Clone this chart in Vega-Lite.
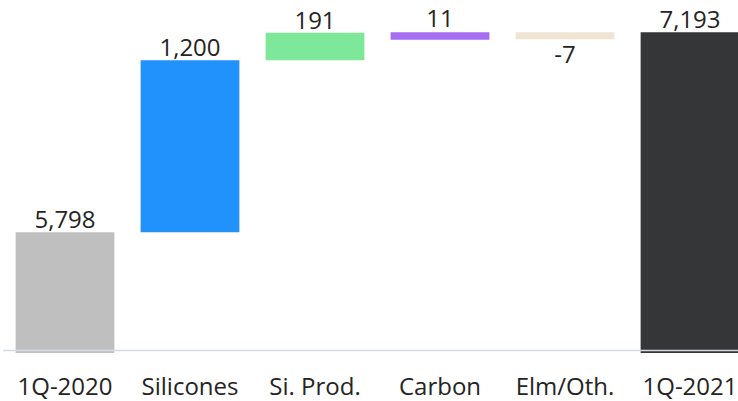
{
  "$schema": "https://vega.github.io/schema/vega-lite/v6.json",
  "width": 738,
  "height": 353,
  "autosize": {"type": "none"},
  "padding": {"left": 0, "top": 0, "right": 0, "bottom": 48},
  "config": {"view": {"stroke": null}, "font": "Open Sans"},
  "data": {
    "values": [
      {"category": "1Q-2020", "start": 0, "end": 5798, "label": "5,798"},
      {"category": "Silicones", "start": 5798, "end": 6998, "label": "1,200"},
      {"category": "Si. Prod.", "start": 6998, "end": 7189, "label": "191"},
      {"category": "Carbon", "start": 7189, "end": 7200, "label": "11"},
      {"category": "Elm/Oth.", "start": 7200, "end": 7193, "label": "-7"},
      {"category": "1Q-2021", "start": 0, "end": 7193, "label": "7,193"}
    ]
  },
  "encoding": {
    "x": {
      "field": "category",
      "type": "nominal",
      "sort": null,
      "scale": {
        "domain": ["1Q-2020", "Silicones", "Si. Prod.", "Carbon", "Elm/Oth.", "1Q-2021"],
        "range": [2.5, 752.5], "paddingInner": 0.21, "paddingOuter": 0.105
      },
      "axis": {
        "title": null,
        "labelAngle": 0,
        "labelFontSize": 24,
        "labelFont": "Open Sans",
        "labelColor": "#252423",
        "ticks": false,
        "domainColor": "#d5dbe3",
        "domainWidth": 1.5,
        "offset": -3,
        "labelPadding": 25,
        "zindex": 1
      }
    }
  },
  "layer": [
    {
      "transform": [{"filter": "abs(datum.end - datum.start) >= 50"}],
      "mark": {"type": "bar", "clip": true},
      "encoding": {
        "y": {"field": "start", "type": "quantitative", "scale": {"domain": [4956, 7418], "zero": false, "nice": false}, "axis": null},
        "y2": {"field": "end"},
        "color": {
          "field": "category",
          "type": "nominal",
          "scale": {
            "domain": ["1Q-2020", "Silicones", "Si. Prod.", "Carbon", "Elm/Oth.", "1Q-2021"],
            "range": ["#bfbfbf", "#2191fb", "#7ee89a", "#a66ef0", "#f0e4d4", "#343638"]
          },
          "legend": null
        }
      }
    },
    {
      "transform": [{"filter": "abs(datum.end - datum.start) < 50"}],
      "mark": {"type": "bar", "clip": true, "strokeWidth": 6, "yOffset": 4, "y2Offset": 4, "width": {"band": 0.94}},
      "encoding": {
        "y": {"field": "start", "type": "quantitative"},
        "y2": {"field": "end"},
        "color": {"field": "category", "type": "nominal", "legend": null},
        "stroke": {"field": "category", "type": "nominal", "scale": {
            "domain": ["1Q-2020", "Silicones", "Si. Prod.", "Carbon", "Elm/Oth.", "1Q-2021"],
            "range": ["#bfbfbf", "#2191fb", "#7ee89a", "#a66ef0", "#f0e4d4", "#343638"]
          }, "legend": null}
      }
    },
    {
      "transform": [{"filter": "datum.end >= datum.start"}],
      "mark": {"type": "text", "baseline": "alphabetic", "dy": -4, "fontSize": 24, "font": "Open Sans", "color": "#252423"},
      "encoding": {
        "y": {"field": "end", "type": "quantitative"},
        "text": {"field": "label"}
      }
    },
    {
      "transform": [{"filter": "datum.end < datum.start"}],
      "mark": {"type": "text", "baseline": "top", "dy": 12, "fontSize": 24, "font": "Open Sans", "color": "#252423"},
      "encoding": {
        "y": {"field": "end", "type": "quantitative"},
        "text": {"field": "label"}
      }
    }
  ]
}
